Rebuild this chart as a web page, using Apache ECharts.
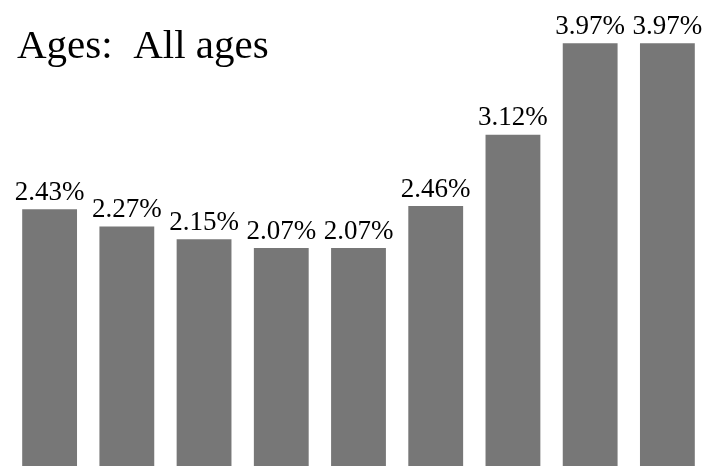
<!DOCTYPE html>
<html><head><meta charset="utf-8">
<script src="https://cdn.jsdelivr.net/npm/echarts@6/dist/echarts.min.js"></script>
<style>html,body{margin:0;padding:0;background:#fff}#c{width:703px;height:466px}</style>
</head><body><div id="c"></div>
<script>
const categories = ['G1','G2','G3','G4','G5','G6','G7','G8','G9'];
const values = [2.43, 2.27, 2.15, 2.07, 2.07, 2.46, 3.12, 3.97, 3.97];
const titleText = 'Ages:  All ages';

const chart = echarts.init(document.getElementById('c'), null, {renderer:'canvas'});
chart.setOption({
  animation: false,
  backgroundColor: '#ffffff',
  title: {
    text: titleText, left: 12, top: 22,
    textStyle: {fontFamily: 'Liberation Serif', fontSize: 41, fontWeight: 'normal', color: '#000'}
  },
  grid: {left: 11, right: -3, top: 40, height: 431, containLabel: false, outerBoundsMode: 'none'},
  xAxis: {type: 'category', data: categories, show: false},
  yAxis: {type: 'value', min: 0, max: 4, show: false},
  series: [{
    type: 'bar', data: values, barCategoryGap: '29%',
    itemStyle: {color: '#777777'},
    label: {show: true, position: 'top', distance: 3,
      formatter: p => p.value.toFixed(2) + '%',
      fontFamily: 'Liberation Serif', fontSize: 27, color: '#000'}
  }]
});
</script></body></html>
